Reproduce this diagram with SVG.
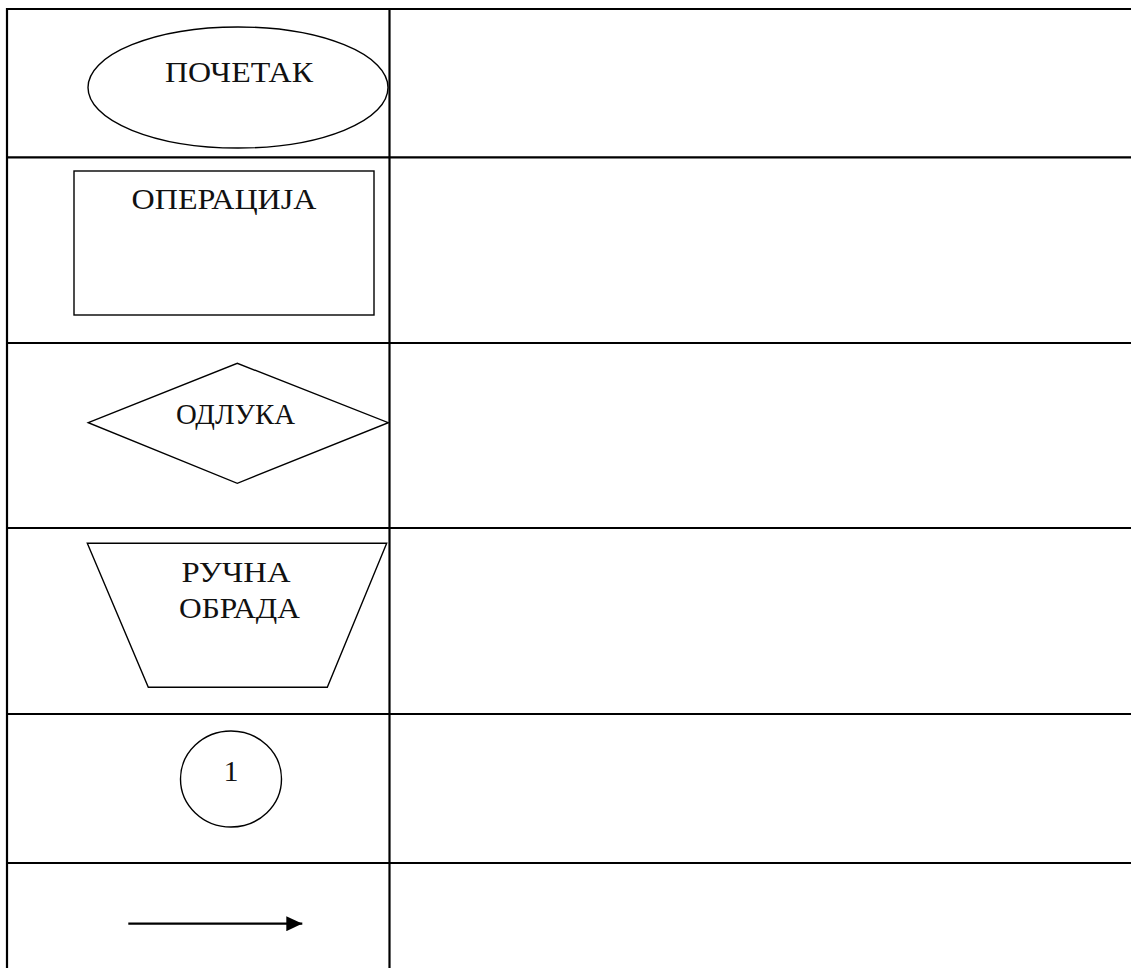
<svg xmlns="http://www.w3.org/2000/svg" width="1131" height="968" viewBox="0 0 1131 968">
<style>
.grid{stroke:#000;stroke-width:2.2;fill:none}
.shape{stroke:#000;stroke-width:1.4;fill:#fff}
.lbl{font-family:"Liberation Serif","Times New Roman",serif;font-size:30px;fill:#111;text-anchor:middle}
</style>
<defs>
<marker id="arr" markerWidth="16" markerHeight="15" refX="16" refY="7.5" orient="auto" markerUnits="userSpaceOnUse" viewBox="0 0 16 15">
<path d="M0,0 L16,7.5 L0,15 Z" fill="#000"/>
</marker>
</defs>
<rect width="1131" height="968" fill="#fff"/>
<g id="table" class="grid">
<line x1="7" y1="9" x2="1131" y2="9"/>
<line x1="7" y1="8" x2="7" y2="968"/>
<line x1="389.5" y1="8" x2="389.5" y2="968"/>
<line x1="7" y1="157.3" x2="1131" y2="157.3"/>
<line x1="7" y1="343" x2="1131" y2="343"/>
<line x1="7" y1="528" x2="1131" y2="528"/>
<line x1="7" y1="714" x2="1131" y2="714"/>
<line x1="7" y1="863" x2="1131" y2="863"/>
</g>
<g id="start">
<ellipse class="shape" cx="238" cy="87.5" rx="150" ry="60.5"/>
<text class="lbl" x="239" y="82" textLength="148" lengthAdjust="spacingAndGlyphs">ПОЧЕТАК</text>
</g>
<g id="operation">
<rect class="shape" x="74" y="171" width="300" height="144"/>
<text class="lbl" x="224" y="209" textLength="185" lengthAdjust="spacingAndGlyphs">ОПЕРАЦИЈА</text>
</g>
<g id="decision">
<polygon class="shape" points="88.3,422.7 237.3,363.3 388.3,422.7 237.3,483.3"/>
<text class="lbl" x="235.5" y="424" textLength="119" lengthAdjust="spacingAndGlyphs">ОДЛУКА</text>
</g>
<g id="manual">
<polygon class="shape" points="87.3,543.3 386.7,543.3 327.3,687.3 148.3,687.3"/>
<text class="lbl" x="236" y="582" textLength="109" lengthAdjust="spacingAndGlyphs">РУЧНА</text>
<text class="lbl" x="239.5" y="618" textLength="121" lengthAdjust="spacingAndGlyphs">ОБРАДА</text>
</g>
<g id="connector-node">
<ellipse class="shape" cx="231" cy="779" rx="50.5" ry="48"/>
<text class="lbl" x="231" y="781">1</text>
</g>
<g id="connectors">
<line x1="128.3" y1="923.7" x2="302.3" y2="923.7" stroke="#000" stroke-width="2.2" marker-end="url(#arr)"/>
</g>
</svg>
